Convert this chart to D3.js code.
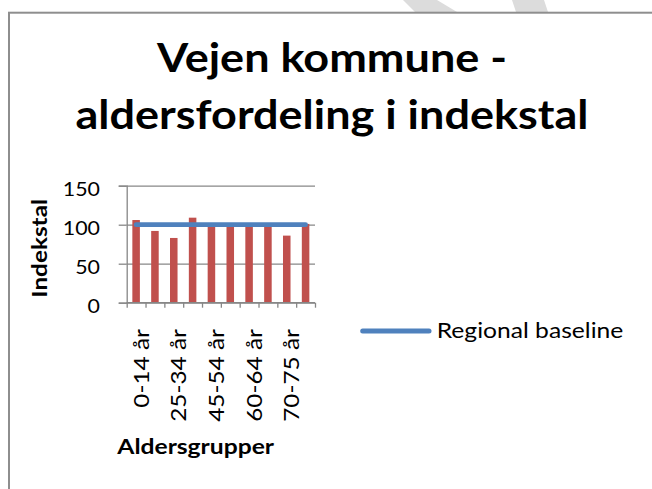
<!DOCTYPE html>
<html>
<head>
<meta charset="utf-8">
<script src="https://cdn.jsdelivr.net/npm/d3@7"></script>
<style>
  html, body { margin: 0; padding: 0; background: #fff; }
  svg { display: block; }
  text { font-family: Lato, "Open Sans", sans-serif; fill: #000; }
</style>
</head>
<body>
<svg id="chart" width="652" height="489"></svg>
<script>
// Age groups on the x axis (every second one is labelled)
const categories = ["0-14 år", "15-24 år", "25-34 år", "35-44 år", "45-54 år",
                    "55-59 år", "60-64 år", "65-69 år", "70-75 år", "75+ år"];
// Municipal index per age group (region = 100)
const indexValues = [106, 92, 83, 109, 99, 100, 98, 99, 86, 101];
// Regional reference level
const baselineValues = [100, 100, 100, 100, 100, 100, 100, 100, 100, 100];
const yTicks = [0, 50, 100, 150];
const shownCategoryLabels = ["0-14 år", "25-34 år", "45-54 år", "60-64 år", "70-75 år"];
const titleLines = ["Vejen kommune -", "aldersfordeling i indekstal"];
const yAxisTitle = "Indekstal";
const xAxisTitle = "Aldersgrupper";
const legendLabel = "Regional baseline";

const svg = d3.select("#chart");
const barColor = "#C0504D";
const lineColor = "#4F81BD";
const axisColor = "#878787";
const fontStack = "Lato, 'Open Sans', sans-serif";

// faint background stripes behind the chart frame
svg.append("g")
  .selectAll("polygon")
  .data([
    [[403, 0], [437, 0], [457, 12], [415, 12]],
    [[512, 0], [544, 0], [548, 12], [516, 12]]
  ])
  .join("polygon")
  .attr("points", d => d.map(p => p.join(",")).join(" "))
  .attr("fill", "#dcdcdc");

// chart frame
svg.append("rect")
  .attr("x", 9).attr("y", 12.7)
  .attr("width", 700).attr("height", 520)
  .attr("fill", "#fff")
  .attr("stroke", "#8e8e8e")
  .attr("stroke-width", 2);

// title
const titleWidths = [350, 513];
const titleBaselines = [72, 129];
svg.append("g")
  .selectAll("text")
  .data(titleLines)
  .join("text")
  .attr("x", 332)
  .attr("y", (d, i) => titleBaselines[i])
  .attr("text-anchor", "middle")
  .attr("font-size", 40)
  .attr("font-weight", 700)
  .attr("textLength", (d, i) => titleWidths[i])
  .attr("lengthAdjust", "spacingAndGlyphs")
  .text(d => d);

// plot area
const plotLeft = 126.7, plotRight = 315, plotTop = 185.7, plotBottom = 302.7;

const x = d3.scaleBand()
  .domain(categories)
  .range([plotLeft, plotRight])
  .paddingInner(0.6)
  .paddingOuter(0.3);

const xEdges = d3.scaleLinear()
  .domain([0, categories.length])
  .range([plotLeft, plotRight]);

const y = d3.scaleLinear()
  .domain([0, 150])
  .range([plotBottom, plotTop]);

// horizontal gridlines
const grid = svg.append("g")
  .attr("transform", `translate(${plotLeft},0)`)
  .call(d3.axisLeft(y).tickValues(yTicks).tickSize(-(plotRight - plotLeft)).tickFormat(""));
grid.select(".domain").remove();
grid.selectAll("line").attr("stroke", axisColor).attr("stroke-width", 1.3);

// y axis with labels
const yAxis = svg.append("g")
  .attr("transform", `translate(${plotLeft},0)`)
  .call(d3.axisLeft(y).tickValues(yTicks).tickSize(8).tickPadding(18.7));
yAxis.select(".domain").attr("stroke", axisColor).attr("stroke-width", 1.3);
yAxis.selectAll(".tick line").attr("stroke", axisColor).attr("stroke-width", 1.3);
yAxis.selectAll(".tick text")
  .attr("font-family", fontStack)
  .attr("font-size", 20)
  .attr("fill", "#000")
  .attr("y", 3)
  .attr("dy", "0.36em")
  .attr("textLength", d => String(d).length * 12.4)
  .attr("lengthAdjust", "spacingAndGlyphs");

// bars
svg.append("g")
  .selectAll("rect")
  .data(indexValues)
  .join("rect")
  .attr("x", (d, i) => x(categories[i]))
  .attr("y", d => y(d))
  .attr("width", x.bandwidth())
  .attr("height", d => y(0) - y(d))
  .attr("fill", barColor);

// x axis line and category boundary ticks
const xTickAxis = svg.append("g")
  .attr("transform", `translate(0,${plotBottom})`)
  .call(d3.axisBottom(xEdges).tickValues(d3.range(categories.length + 1)).tickSize(5).tickFormat(""));
xTickAxis.select(".domain").attr("stroke", axisColor).attr("stroke-width", 1.3).attr("d", `M${plotLeft},0H${plotRight}`);
xTickAxis.selectAll(".tick line").attr("stroke", axisColor).attr("stroke-width", 1.3);

// rotated category labels
const xLabelAxis = svg.append("g")
  .attr("transform", `translate(0,${plotBottom})`)
  .call(d3.axisBottom(x).tickValues(shownCategoryLabels).tickSize(0));
xLabelAxis.select(".domain").remove();
const catText = xLabelAxis.selectAll(".tick text")
  .attr("font-family", fontStack)
  .attr("font-size", 21.5)
  .attr("fill", "#000")
  .attr("transform", "rotate(-90)")
  .attr("text-anchor", "end")
  .attr("x", -26.5)
  .attr("y", 12.5)
  .attr("dy", 0);
// widen the labels slightly to the label font's proportions
catText.each(function () {
  const len = this.getComputedTextLength();
  d3.select(this)
    .attr("textLength", len * 1.13)
    .attr("lengthAdjust", "spacingAndGlyphs");
});

// regional baseline
const baseline = d3.line()
  .x((d, i) => x(categories[i]) + x.bandwidth() / 2)
  .y(d => y(d));
svg.append("path")
  .datum(baselineValues)
  .attr("d", baseline)
  .attr("fill", "none")
  .attr("stroke", lineColor)
  .attr("stroke-width", 4.8)
  .attr("stroke-linecap", "round");

// axis titles
svg.append("text")
  .attr("transform", "translate(47.3,248.3) rotate(-90)")
  .attr("text-anchor", "middle")
  .attr("font-size", 20.5)
  .attr("font-weight", 700)
  .attr("textLength", 98.7)
  .attr("lengthAdjust", "spacingAndGlyphs")
  .text(yAxisTitle);

svg.append("text")
  .attr("x", 195.7)
  .attr("y", 454)
  .attr("text-anchor", "middle")
  .attr("font-size", 21)
  .attr("font-weight", 700)
  .attr("textLength", 156.7)
  .attr("lengthAdjust", "spacingAndGlyphs")
  .text(xAxisTitle);

// legend
const legend = svg.append("g").attr("transform", "translate(362.7,331)");
legend.append("line")
  .attr("x1", 0).attr("x2", 66.3)
  .attr("y1", 0).attr("y2", 0)
  .attr("stroke", lineColor)
  .attr("stroke-width", 5)
  .attr("stroke-linecap", "round");
legend.append("text")
  .attr("x", 74)
  .attr("y", 7.3)
  .attr("font-size", 21.5)
  .attr("textLength", 186.6)
  .attr("lengthAdjust", "spacingAndGlyphs")
  .text(legendLabel);
</script>
</body>
</html>
